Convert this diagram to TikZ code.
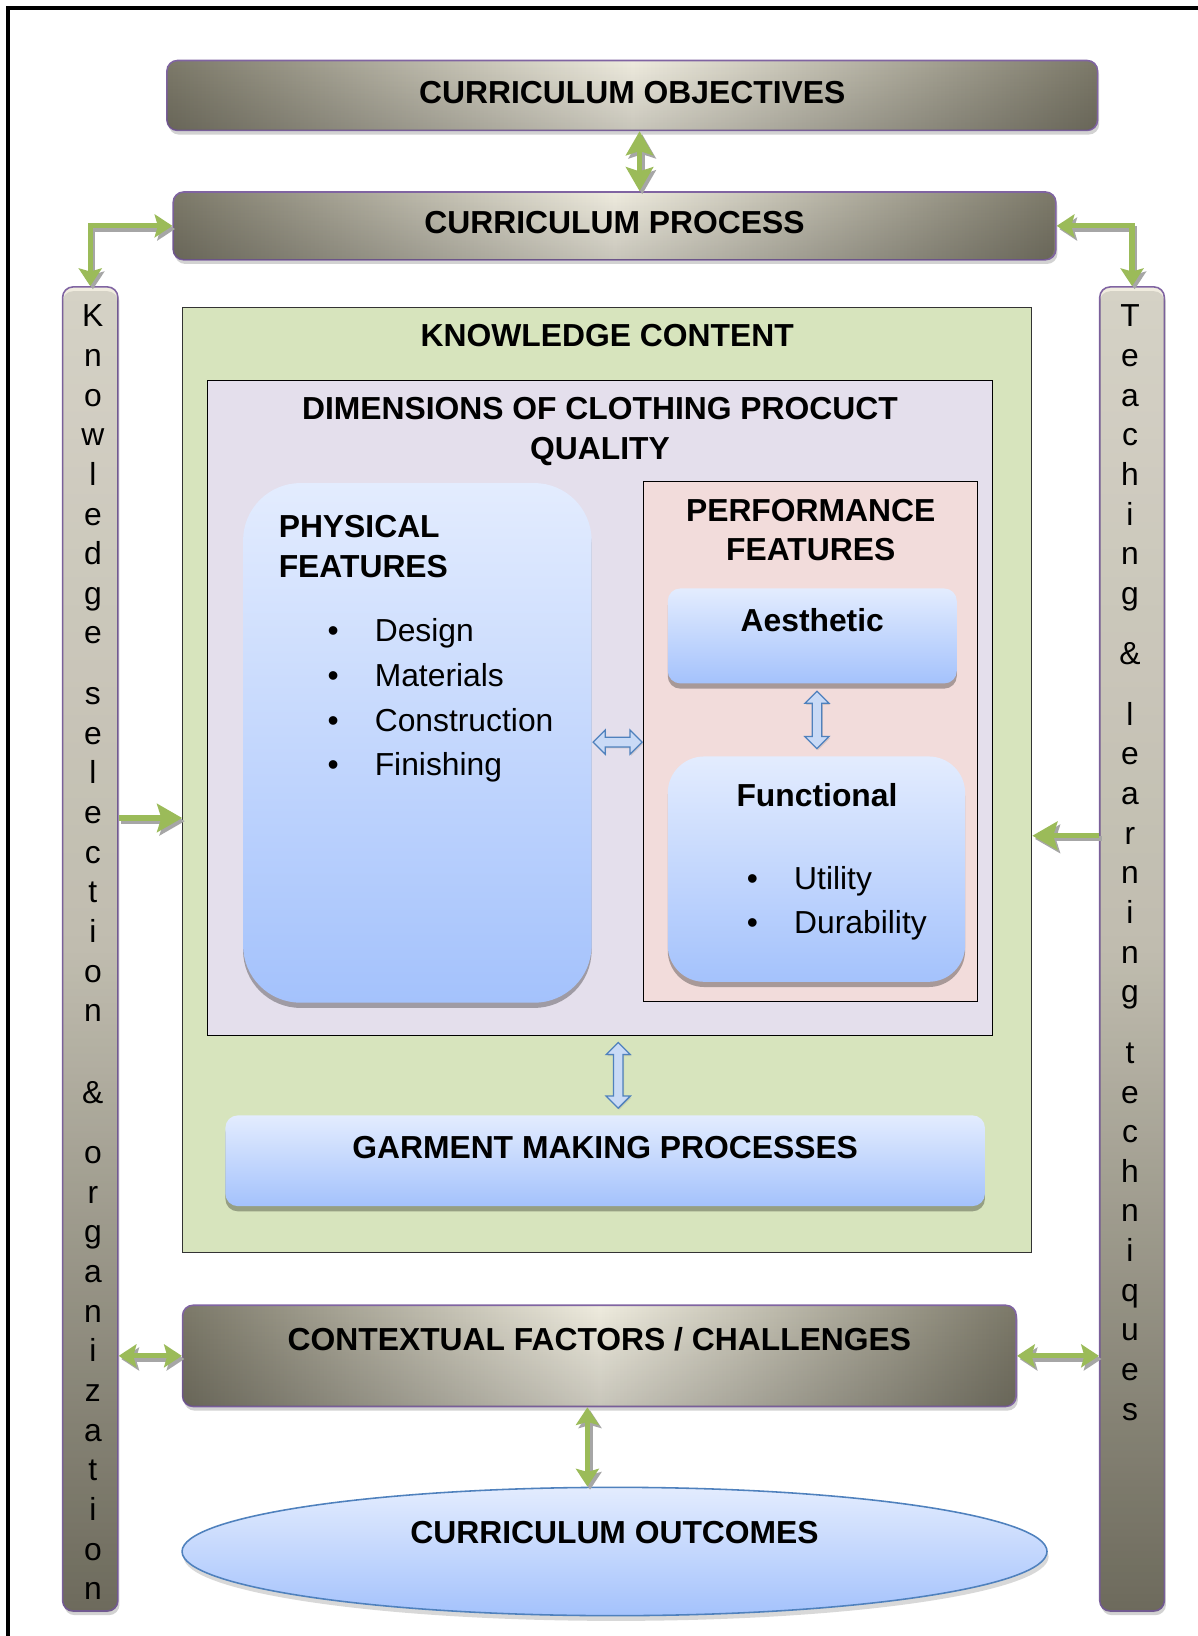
\documentclass[tikz,border=0pt]{standalone}
\usepackage{fontspec}
\setmainfont{Liberation Sans}
\usetikzlibrary{arrows.meta,shapes.geometric,shapes.arrows,shadows,calc,fadings}
\definecolor{gdark}{HTML}{7C7969}
\definecolor{glight}{HTML}{EEEBDE}
\definecolor{purp}{HTML}{8064A2}
\definecolor{ggreen}{HTML}{9BBB59}
\definecolor{shgray}{HTML}{A6A6A6}
\definecolor{kgreen}{HTML}{D7E4BD}
\definecolor{lav}{HTML}{E4DFEC}
\definecolor{pinkf}{HTML}{F2DCDB}
\definecolor{bluet}{HTML}{E3ECFE}
\definecolor{blueb}{HTML}{A4C2FC}
\definecolor{ablue}{HTML}{4F81BD}
\definecolor{afill}{HTML}{C9DAF6}
\definecolor{bartop}{HTML}{F0ECDF}
\definecolor{barmid}{HTML}{D8D4C5}
\definecolor{barbot}{HTML}{7B7868}
\tikzfading[name=edgefade, left color=transparent!40, middle color=transparent!100, right color=transparent!40]
\newcommand{\blt}{\makebox[45.3pt][l]{\textbullet}}
\newcommand{\grarrow}[2][]{\draw[garrowsh,#1] #2; \draw[garrow,#1] #2;}
\begin{document}
\begin{tikzpicture}[x=1pt,y=-1pt,
  hd/.style={font=\bfseries\fontsize{30.5}{38}\selectfont},
  rg/.style={font=\fontsize{30.5}{38}\selectfont},
  lst/.style={font=\fontsize{30.5}{42.7}\selectfont, align=left, inner sep=0pt},
  gbox/.style={hd, draw=purp, line width=1.5pt, rounded corners=10pt,
    left color=gdark, right color=gdark, middle color=glight, inner sep=0pt,
    text height=22pt,
    postaction={fill=black, fill opacity=0.16, path fading=north},
    drop shadow={shadow xshift=1.5pt, shadow yshift=-4pt, opacity=0.35}},
  bar/.style={draw=purp, line width=1.5pt, rounded corners=10pt,
    top color=bartop, bottom color=barbot, middle color=barmid, inner sep=0pt,
    postaction={fill=black, fill opacity=0.18, path fading=edgefade},
    drop shadow={shadow xshift=1.5pt, shadow yshift=-4pt, opacity=0.35}},
  bartext/.style={rg, align=center, inner sep=0pt, anchor=north},
  bbox/.style={top color=bluet, bottom color=blueb, inner sep=0pt, text height=22pt,
    drop shadow={shadow xshift=0pt, shadow yshift=-5pt, opacity=0.3, fill=black}},
  plain/.style={draw=black!80, line width=0.8pt, inner sep=0pt},
  barrow/.style={double arrow, draw=ablue, line width=1.2pt, fill=afill,
    inner xsep=0pt, inner ysep=4pt, double arrow head extend=7pt,
    drop shadow={shadow xshift=1pt, shadow yshift=-1.5pt, opacity=0.25}},
  varrow/.style={barrow, shape border rotate=90, inner xsep=4pt, inner ysep=0pt},
  gtip/.tip={Stealth[length=17pt,width=22pt,inset=3pt]},
  btip/.tip={Stealth[length=24pt,width=27pt,inset=4pt]},
  ctip/.tip={Stealth[length=23pt,width=26pt,inset=4pt]},
  garrow/.style={draw=ggreen, line width=5pt, line join=miter},
  garrowsh/.style={draw=shgray, line width=5pt, line join=miter,
    transform canvas={xshift=2.5pt,yshift=-3pt}}
]
\useasboundingbox (0,0) rectangle (1148,1568);
\fill[white] (0,0) rectangle (1148,1568);
% frame
\draw[line width=4pt, line join=miter] (1150,8) -- (8,8) -- (8,1570);

% top boxes
\node[gbox, minimum width=892pt, minimum height=67pt, text depth=7pt] (obj) at (606,91.5) {CURRICULUM OBJECTIVES};
\node[gbox, minimum width=846pt, minimum height=65pt, text depth=7pt] (proc) at (589,216.5) {CURRICULUM PROCESS};

% side bars
\node[bar, minimum width=53pt, minimum height=1269pt] (kbar) at (86.5,909.5) {};
\node[bar, minimum width=62pt, minimum height=1269pt] (tbar) at (1085,909.5) {};
\node[bartext] (kbart) at (89,292) {K\\n\\o\\w\\l\\e\\d\\g\\e\\[20pt]s\\e\\l\\e\\c\\t\\i\\o\\n\\[40pt]\&\\[20pt]o\\r\\g\\a\\n\\i\\z\\a\\t\\i\\o\\n};
\node[bartext] (tbart) at (1083,292) {T\\e\\a\\c\\h\\i\\n\\g\\[20pt]\&\\[20pt]l\\e\\a\\r\\n\\i\\n\\g\\[20pt]t\\e\\c\\h\\n\\i\\q\\u\\e\\s};

% knowledge content
\node[plain, fill=kgreen, minimum width=814pt, minimum height=905pt] (know) at (582,747.5) {};
\node[hd, inner sep=0pt] (knowt) at (582,322) {KNOWLEDGE CONTENT};

\node[plain, draw=black, fill=lav, minimum width=752pt, minimum height=627pt] (dim) at (575,678.5) {};
\node[hd, align=center, inner sep=0pt, anchor=north] (dimt) at (575,381) {DIMENSIONS OF CLOTHING PROCUCT\\QUALITY};

% physical
\node[bbox, rounded corners=55pt, minimum width=334pt, minimum height=498pt] (phys) at (400,712) {};
\node[hd, align=left, inner sep=0pt, anchor=north west] (physt) at (267,494) {PHYSICAL\\FEATURES};
\node[lst, anchor=north west] (physl) at (313.7,593) {\blt Design\\\blt Materials\\\blt Construction\\\blt Finishing};

% performance
\node[plain, draw=black, fill=pinkf, minimum width=320pt, minimum height=499pt] (perf) at (777,710.5) {};
\node[hd, align=center, inner sep=0pt, anchor=north] (perft) at (777,478) {PERFORMANCE\\FEATURES};
\node[bbox, hd, rounded corners=12pt, minimum width=277pt, minimum height=91pt, text depth=31pt] (aest) at (778.5,609.5) {Aesthetic};
\node[bbox, rounded corners=35pt, minimum width=285pt, minimum height=216pt] (func) at (782.5,833) {};
\node[hd, inner sep=0pt] (funct) at (783,762) {Functional};
\node[lst, anchor=north west] (funcl) at (715.7,830) {\blt Utility\\\blt Durability};

% garment
\node[bbox, hd, rounded corners=12pt, minimum width=728pt, minimum height=87pt, text depth=27pt] (garm) at (580,1112.5) {GARMENT MAKING PROCESSES};

% contextual and outcomes
\node[gbox, minimum width=799pt, minimum height=97pt, text depth=33pt] (ctx) at (574.5,1299.5) {CONTEXTUAL FACTORS / CHALLENGES};
\node[ellipse, hd, draw=ablue, line width=1.5pt, top color=bluet, bottom color=blueb, inner sep=0pt,
  minimum width=829pt, minimum height=123pt, text height=22pt, text depth=38pt,
  drop shadow={shadow xshift=1.5pt, shadow yshift=-5pt, opacity=0.3}] (out) at (589,1487) {CURRICULUM OUTCOMES};

% blue double arrows
\node[barrow, minimum height=47pt] (a1) at ($(phys.east)!0.5!(perf.west)$) {};
\node[varrow, minimum height=55pt] (a2) at ($(aest.south)!0.5!(func.north)+(2.5,0)$) {};
\node[varrow, minimum height=63pt] (a3) at ($(dim.south)!0.5!(garm.north)+(15,0)$) {};

% green arrows
\coordinate (kin) at ($(know.west)+(0,36.5)$);
\coordinate (tin) at ($(know.east)+(0,53.5)$);
\coordinate (op) at (613,0);
\coordinate (co) at (563,0);
\grarrow[gtip-gtip]{(kbar.north) |- (proc.west)}
\grarrow[gtip-gtip]{(proc.east) -| (tbar.north)}
\grarrow[-btip]{(kbar.east |- kin) -- (kin)}
\grarrow[-btip]{(tbar.west |- tin) -- (tin)}
\grarrow[ctip-ctip]{(obj.south -| op) -- (proc.north -| op)}
\grarrow[gtip-gtip]{(kbar.east |- ctx) -- (ctx.west)}
\grarrow[gtip-gtip]{(ctx.east) -- (tbar.west |- ctx)}
\grarrow[gtip-gtip]{(ctx.south -| co) -- (out.north -| co)}
\end{tikzpicture}
\end{document}
